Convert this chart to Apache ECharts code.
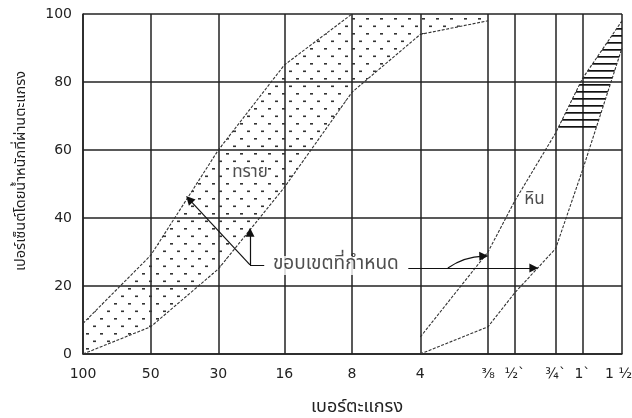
<!DOCTYPE html>
<html><head><meta charset="utf-8">
<script src="https://cdn.jsdelivr.net/npm/echarts@6/dist/echarts.min.js"></script>
<style>html,body{margin:0;padding:0;background:#fff}#c{width:632px;height:418px}</style>
</head><body><div id="c"></div>
<script>
// Sieve labels and nominal openings (mm)
const sieveLabels = ['100','50','30','16','8','4','⅜','½`','¾`','1`','1 ½`'];
const sieveSizes = [0.15,0.3,0.6,1.18,2.36,4.75,9.5,12.5,19,25,37.5];
const yTicks = [0,20,40,60,80,100];
// Sand (ทราย) limits, % passing
const sandSizes = [0.15,0.3,0.6,1.18,2.36,4.75,9.5];
const sandUpper = [9,29,60,85,100,100,100];
const sandLower = [0,8,25,49,77,94,98];
// Gravel (หิน) limits, % passing
const gravelSizes = [4.75,9.5,12.5,19,25,37.5];
const gravelUpper = [5,30,45,65,81,98];
const gravelLower = [0,8,18,31,54,90];
const gravelHatchFrom = 65;
// Annotations
const yName = 'เปอร์เซ็นต์โดยน้ำหนักที่ผ่านตะแกรง';
const xName = 'เบอร์ตะแกรง';
const bandNotes = [
  {name:'ทราย', value:[0.83,53]},
  {name:'หิน', value:[15.3,45]}
];
const limitNote = [{name:'ขอบเขตที่กำหนด', value:[2.0,26]}];
const plainSegments = [
  [[0.96,26.2],[0.83,26.2]]
];
const arrowSegments = [
  [[0.83,26.2],[0.83,35.8]],
  [[0.83,26.2],[0.445,45.5]],
  [[4.2,25.3],[15.2,25.3]]
];
const curvedArrows = [
  [[6.3,25.3],[9.1,28.8]]
];

const FONT = '"DejaVu Sans", sans-serif';
const THAI = '"Noto Sans Thai","Noto Sans","DejaVu Sans",sans-serif';
const INK = '#222';

function makeDots(){
  const c=document.createElement('canvas'); c.width=14; c.height=15;
  const g=c.getContext('2d'); g.fillStyle='#333';
  g.fillRect(2,3,3,1.6); g.fillRect(9,10.5,3,1.6);
  return c;
}
function makeHatch(){
  const c=document.createElement('canvas'); c.width=4; c.height=7;
  const g=c.getContext('2d'); g.fillStyle='#111';
  g.fillRect(0,0,4,1.7);
  return c;
}
function clipAbove(pts, yc){
  const out=[];
  for(let i=0;i<pts.length;i++){
    const a=pts[i], b=pts[(i+1)%pts.length];
    const ain=a[1]<=yc, bin=b[1]<=yc;
    if(ain) out.push(a);
    if(ain!==bin){ const t=(yc-a[1])/(b[1]-a[1]); out.push([a[0]+t*(b[0]-a[0]), yc]); }
  }
  return out;
}
function band(xs, up, lo, fill, clipVal){
  return function(params, api){
    let pts=[];
    xs.forEach((x,i)=>pts.push(api.coord([x, up[i]])));
    for(let i=xs.length-1;i>=0;i--) pts.push(api.coord([xs[i], lo[i]]));
    if(clipVal!=null){ pts = clipAbove(pts, api.coord([xs[0], clipVal])[1]); }
    return {type:'polygon', shape:{points:pts}, style:{fill:fill, stroke:null}};
  };
}
function pairs(xs, ys){ return xs.map((x,i)=>[x, ys[i]]); }
const curveStyle = {color:'#333', width:1.1, type:[3,1.5]};
const arrowLine = {color:'#111', width:1.2, opacity:1};

const chart = echarts.init(document.getElementById('c'));
chart.setOption({
  animation:false,
  grid:{left:83, right:10, top:14, bottom:64, outerBoundsMode:'none', containLabel:false},
  xAxis:{
    type:'log', logBase:2, min:sieveSizes[0], max:sieveSizes[sieveSizes.length-1],
    axisLine:{show:true, lineStyle:{color:INK, width:1.5}},
    axisTick:{show:false, customValues:sieveSizes},
    axisLabel:{customValues:sieveSizes, margin:13, fontFamily:FONT, fontSize:14, color:INK,
      formatter:function(v){ let k=0,d=1e9; sieveSizes.forEach((s,i)=>{const e=Math.abs(s-v); if(e<d){d=e;k=i;}}); return sieveLabels[k]; }},
    splitLine:{show:true, lineStyle:{color:INK, width:1.5}}
  },
  yAxis:{
    type:'value', min:yTicks[0], max:yTicks[yTicks.length-1], interval:20,
    axisLine:{show:true, lineStyle:{color:INK, width:1.5}},
    axisTick:{show:false},
    axisLabel:{margin:11, fontFamily:FONT, fontSize:14, color:INK},
    splitLine:{show:true, lineStyle:{color:INK, width:1.5}}
  },
  graphic:[
    {type:'text', x:22, y:171, rotation:Math.PI/2, style:{text:yName, fontFamily:THAI, fontSize:14.5, fill:INK, align:'center', verticalAlign:'middle'}},
    {type:'text', x:357, y:408, style:{text:xName, fontFamily:THAI, fontSize:18, fill:INK, align:'center', verticalAlign:'middle'}}
  ],
  series:[
    {type:'custom', z:1, renderItem:band(sandSizes, sandUpper, sandLower, {image:makeDots(), repeat:'repeat'}), data:[[0]]},
    {type:'custom', z:1, renderItem:band(gravelSizes, gravelUpper, gravelLower, {image:makeHatch(), repeat:'repeat'}, gravelHatchFrom), data:[[0]]},
    {type:'line', z:3, showSymbol:false, lineStyle:curveStyle, data:pairs(sandSizes.slice(0,5), sandUpper.slice(0,5))},
    {type:'line', z:3, showSymbol:false, lineStyle:curveStyle, data:pairs(sandSizes, sandLower)},
    {type:'line', z:3, showSymbol:false, lineStyle:curveStyle, data:pairs(gravelSizes, gravelUpper)},
    {type:'line', z:3, showSymbol:false, lineStyle:curveStyle, data:pairs(gravelSizes, gravelLower)},
    {type:'lines', coordinateSystem:'cartesian2d', z:4, symbol:'none',
      lineStyle:arrowLine, data:plainSegments.map(c=>({coords:c}))},
    {type:'lines', coordinateSystem:'cartesian2d', z:4, symbol:['none','triangle'], symbolSize:9,
      lineStyle:arrowLine, data:arrowSegments.map(c=>({coords:c}))},
    {type:'lines', coordinateSystem:'cartesian2d', z:4, symbol:['none','triangle'], symbolSize:9,
      lineStyle:Object.assign({curveness:0.15}, arrowLine), data:curvedArrows.map(c=>({coords:c}))},
    {type:'scatter', z:5, symbolSize:0, silent:true,
      label:{show:true, position:'inside', formatter:'{b}', fontFamily:THAI, fontSize:17, color:INK, backgroundColor:'#fff'},
      data:bandNotes},
    {type:'scatter', z:5, symbolSize:0, silent:true,
      label:{show:true, position:'inside', formatter:'{b}', fontFamily:THAI, fontSize:19, color:INK, backgroundColor:'#fff'},
      data:limitNote}
  ]
});
</script></body></html>
